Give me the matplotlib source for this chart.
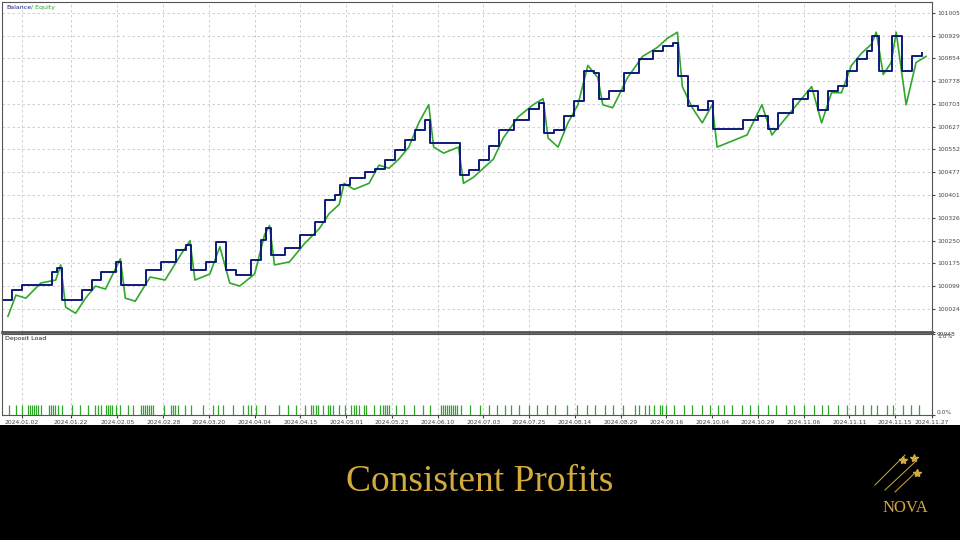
import matplotlib
matplotlib.use("Agg")
import matplotlib.pyplot as plt
from matplotlib.lines import Line2D

bal_x = [2,10,20,35,50,55,60,70,80,90,100,115,120,130,145,160,175,185,190,205,215,225,235,250,260,265,270,285,300,315,325,335,340,350,365,375,385,395,405,415,425,430,440,455,460,470,480,490,500,515,530,540,545,555,565,575,585,595,600,610,625,640,655,665,675,680,690,700,710,715,730,745,760,770,780,795,810,820,830,840,850,860,870,875,882,890,895,905,915,925]
balance = [100054,100087,100103,100103,100146,100159,100054,100054,100087,100120,100146,100179,100103,100103,100153,100179,100219,100235,100153,100179,100245,100153,100136,100186,100252,100291,100202,100225,100268,100311,100384,100400,100433,100456,100476,100489,100516,100549,100582,100615,100648,100575,100575,100575,100466,100483,100516,100565,100615,100648,100687,100707,100608,100615,100664,100714,100813,100806,100720,100747,100806,100852,100879,100895,100905,100796,100697,100681,100714,100621,100621,100648,100664,100621,100674,100720,100747,100681,100747,100763,100813,100852,100879,100928,100813,100813,100928,100813,100862,100872]
equity = [100000,100070,100060,100110,100120,100170,100030,100010,100060,100100,100090,100190,100060,100050,100130,100120,100200,100250,100120,100140,100230,100110,100100,100140,100270,100300,100170,100180,100240,100290,100340,100370,100440,100420,100440,100500,100490,100520,100560,100640,100700,100560,100540,100560,100440,100460,100490,100520,100590,100660,100700,100720,100590,100560,100640,100700,100830,100790,100700,100690,100790,100860,100890,100920,100940,100760,100690,100640,100700,100560,100580,100600,100700,100600,100640,100700,100760,100640,100740,100740,100830,100870,100900,100940,100800,100840,100940,100700,100840,100860]
eq_x = [x + 4 for x in bal_x]

load_x = [7,14,20,26,28,30,32,34,36,39,47,49,51,53,56,60,70,78,86,93,97,100,105,107,109,111,115,119,127,132,140,142,144,146,148,150,152,163,170,172,174,177,184,190,202,212,217,222,232,242,247,250,255,264,278,288,296,305,311,313,316,318,323,328,330,333,339,345,351,354,356,359,364,366,374,380,383,385,387,389,396,404,414,423,430,441,443,445,447,449,451,453,455,457,461,471,481,490,498,506,512,520,530,538,548,556,568,578,588,596,606,614,624,636,640,646,650,656,662,664,668,676,686,694,704,712,720,726,734,744,752,760,770,778,788,796,806,816,824,830,840,850,858,866,874,880,890,896,906,914,922]
load = [0.12] * len(load_x)

tick_pos = [20,69,116,162,208,254,300,346,392,438,484,530,576,622,668,714,760,806,852,898,935]
tick_lab = ["2024.01.02","2024.01.22","2024.02.05","2024.02.28","2024.03.20","2024.04.04","2024.04.15","2024.05.01","2024.05.23","2024.06.10","2024.07.03","2024.07.25","2024.08.14","2024.08.29","2024.09.16","2024.10.04","2024.10.29","2024.11.06","2024.11.11","2024.11.15","2024.11.27"]
ytick_vals = [99948,100024,100099,100175,100250,100326,100401,100477,100552,100627,100703,100778,100854,100929,101005]

W, H = 960, 540
fig = plt.figure(figsize=(9.6, 5.4), dpi=100)
fig.patch.set_facecolor("white")

def ax_px(x0, y0, x1, y1):
    return fig.add_axes([x0 / W, 1 - y1 / H, (x1 - x0) / W, (y1 - y0) / H])

grid_kw = dict(color="#c8c8c8", linestyle=(0, (3, 3)), linewidth=0.6)
tick_font = dict(fontsize=4.3, color="#222222")

ax = ax_px(2, 2, 932, 332)
ax.set_xlim(0, 930)
ax.set_ylim(99948, 101040)
ax.plot(eq_x, equity, color="#2fa82a", linewidth=1.2, zorder=2)
ax.step(bal_x, balance, where="post", color="#0e1a7a", linewidth=1.4, zorder=3)
ax.set_xticks(tick_pos)
ax.set_xticklabels([])
ax.set_yticks(ytick_vals)
ax.yaxis.tick_right()
ax.set_yticklabels([str(v) for v in ytick_vals], **tick_font)
ax.tick_params(length=2, pad=1.5, colors="#444444")
ax.get_yticklabels()[0].set_va("top")
ax.grid(True, **grid_kw)
for s in ax.spines.values():
    s.set_color("#555555"); s.set_linewidth(0.8)
ax.spines["bottom"].set_linewidth(2)
ax.annotate("Balance", (0, 1), xycoords="axes fraction", xytext=(3, -2), textcoords="offset points",
            color="#1a237e", fontsize=4.5, va="top")
ax.annotate("/ Equity", (0, 1), xycoords="axes fraction", xytext=(21, -2), textcoords="offset points",
            color="#2fa82a", fontsize=4.5, va="top")

ax2 = ax_px(2, 334, 932, 415)
ax2.set_xlim(0, 930)
ax2.set_ylim(0, 1.0)
ax2.vlines(load_x, 0, load, color="#2fa82a", linewidth=0.9)
ax2.set_xticks(tick_pos)
ax2.set_xticklabels(tick_lab, **tick_font)
ax2.set_yticks([0, 1.0])
ax2.yaxis.tick_right()
ax2.set_yticklabels(["0.0%", "1.0%"], **tick_font)
ax2.get_yticklabels()[1].set_va("top")
ax2.get_yticklabels()[0].set_va("bottom")
ax2.tick_params(length=2, pad=1.5, colors="#444444")
ax2.grid(True, axis="x", **grid_kw)
for s in ax2.spines.values():
    s.set_color("#555555"); s.set_linewidth(0.8)
ax2.text(0.003, 0.97, "Deposit Load", fontsize=4.5, color="#222222", transform=ax2.transAxes, va="top")

band = ax_px(0, 425, 960, 540)
band.set_facecolor("black")
band.set_xlim(0, 960); band.set_ylim(540, 425)
band.set_xticks([]); band.set_yticks([])
for s in band.spines.values():
    s.set_visible(False)
gold = "#d4aa3c"
band.text(480, 482, "Consistent Profits", color=gold, fontsize=27, family="Liberation Serif", ha="center", va="center")
band.text(905, 508, "NOVA", color=gold, fontsize=12, family="Liberation Serif", ha="center", va="center")
for (x0, y0, x1, y1) in [(875, 485, 905, 455), (885, 490, 915, 462), (895, 492, 918, 470)]:
    band.add_line(Line2D([x0, x1], [y0, y1], color=gold, linewidth=0.7))
band.plot([903, 914, 917], [460, 458, 473], marker="*", linestyle="none", color=gold, markersize=6)

fig.savefig("out.png", dpi=100, facecolor="white")
